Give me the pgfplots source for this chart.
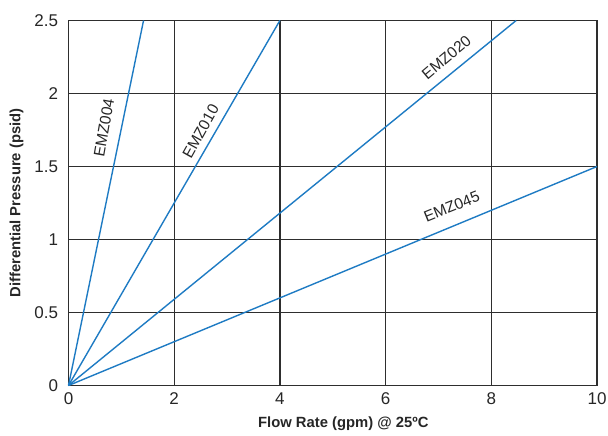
\documentclass[border=0pt]{standalone}
\usepackage{pgfplots}
\pgfplotsset{compat=1.18}
\usepackage{fontspec}
\setmainfont{Liberation Sans}
\definecolor{lineblue}{HTML}{1E7BC3}
\definecolor{gridgray}{HTML}{2E2E2E}
\begin{document}
\begin{tikzpicture}
\begin{axis}[
  scale only axis,
  width=528.5pt, height=365pt,
  xmin=0, xmax=10, ymin=0, ymax=2.5,
  xtick={0,2,4,6,8,10},
  ytick={0,0.5,1,1.5,2,2.5},
  yticklabels={0,0.5,1,1.5,2,2.5},
  xticklabels={0,2,4,6,8,10},
  grid=major,
  major grid style={gridgray, line width=1.4pt},
  axis line style={gridgray, line width=1.4pt},
  axis lines=box,
  tick style={draw=none},
  ticklabel style={font=\fontsize{17}{19}\selectfont, text=black!85},
  xticklabel style={yshift=-4pt},
  yticklabel style={xshift=-7pt},
  xlabel={\textbf{Flow Rate (gpm) @ 25ºC}},
  ylabel={\textbf{Differential Pressure (psid)}},
  xlabel style={font=\fontsize{14.8}{16}\selectfont, at={(axis description cs:0.52,-0.1055)}, anchor=center, text=black!85},
  ylabel style={font=\fontsize{14.8}{16}\selectfont, at={(axis description cs:-0.0984,0.5)}, anchor=center, rotate=0, text=black!85},
  clip=false,
]
\addplot[lineblue, line width=1.4pt] coordinates {(0,0) (1.42,2.5)};
\addplot[lineblue, line width=1.4pt] coordinates {(0,0) (4,2.5)};
\addplot[lineblue, line width=1.4pt] coordinates {(0,0) (8.47,2.5)};
\addplot[lineblue, line width=1.4pt] coordinates {(0,0) (10,1.5)};
\node[rotate=80, font=\fontsize{15.5}{17}\selectfont, text=black!85] at (axis cs:0.672,1.767) {EMZ004};
\node[rotate=61, font=\fontsize{15.5}{17}\selectfont, text=black!85] at (axis cs:2.50,1.74) {EMZ010};
\node[rotate=40, font=\fontsize{15.5}{17}\selectfont, text=black!85] at (axis cs:7.15,2.247) {EMZ020};
\node[rotate=22, font=\fontsize{15.5}{17}\selectfont, text=black!85] at (axis cs:7.25,1.225) {EMZ045};
\end{axis}
\pgfresetboundingbox
\useasboundingbox ([xshift=-68.5pt,yshift=-50.5pt]current axis.south west) rectangle ([xshift=11pt,yshift=20.5pt]current axis.north east);
\end{tikzpicture}
\end{document}
